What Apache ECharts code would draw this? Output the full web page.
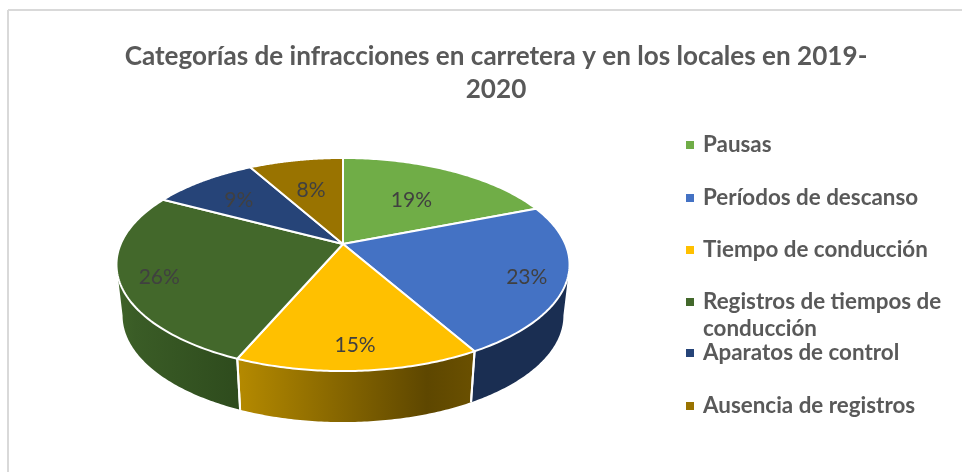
<!DOCTYPE html>
<html>
<head>
<meta charset="utf-8">
<script src="https://cdn.jsdelivr.net/npm/echarts@6/dist/echarts.min.js"></script>
<style>
	html, body { margin:0; padding:0; background:#fff; }
	#main { width:962px; height:472px; }
</style>
</head>
<body>
<div id="main"></div>
<script>
var chartTitle = 'Categorías de infracciones en carretera y en los locales en 2019-\n2020';
var categories = ['Pausas', 'Períodos de descanso', 'Tiempo de conducción', 'Registros de tiempos de\nconducción', 'Aparatos de control', 'Ausencia de registros'];
var shares = [19, 22.8, 14.6, 26.4, 9.1, 8.1];

// estilo
var topColors = ['#70AD47', '#4472C4', '#FFC000', '#43682B', '#264478', '#997300'];
var wallStops = [
	[[0, '#5b8a3a'], [1, '#5b8a3a']],
	[[0, '#1a2e52'], [1, '#1a2e52']],
	[[0, '#b58a00'], [0.8, '#5e4700'], [1, '#6a5000']],
	[[0, '#3f6329'], [0.15, '#3a5c26'], [1, '#2e4b1d']],
	[[0, '#1a2e52'], [1, '#1a2e52']],
	[[0, '#6b5100'], [1, '#6b5100']]
];
var labelRadius = [0.6, 0.83, 0.81, 0.83, 0.72, 0.64];
var legendY = [145, 198, 250, 302, 353, 406];
var secondLineY = 330;

// proyección del disco en perspectiva
var cx = 343, cy = 244;
var scaleX = 222.3, scaleY = 102.6, tilt = 0.1925;
var depth = 51, bottomScale = 0.973;
// ángulos donde la pared deja de verse
var wallFrom = Math.acos(-tilt), wallTo = Math.PI * 2 - wallFrom;

function project(angle, r, lower) {
	var x = Math.sin(angle) * r, y = Math.cos(angle) * r;
	var d = 1 + tilt * y;
	var u = scaleX * x / d, v = scaleY * y / d;
	if (lower) {
		return [cx + u * bottomScale, cy - v + depth];
	}
	return [cx + u, cy - v];
}

function rim(a, b, lower) {
	var pts = [], n = 80;
	for (var i = 0; i <= n; i++) {
		pts.push(project(a + (b - a) * i / n, 1, lower));
	}
	return pts;
}

function renderSlice(index) {
	return function(params, api) {
		var a = api.value(0) * Math.PI * 2;
		var b = api.value(1) * Math.PI * 2;
		var top = rim(a, b, false);
		var children = [{
			type:'polygon',
			z2:3,
			shape:{ points:[[cx, cy]].concat(top) },
			style:{ fill:topColors[index], stroke:'#fff', lineWidth:2, lineJoin:'round' }
		}];
		var wa = Math.max(a, wallFrom), wb = Math.min(b, wallTo);
		if (wb > wa) {
			var wall = rim(wa, wb, false).concat(rim(wa, wb, true).reverse());
			var minX = 9999, maxX = -9999;
			for (var i = 0; i < wall.length; i++) {
				minX = Math.min(minX, wall[i][0]);
				maxX = Math.max(maxX, wall[i][0]);
			}
			children.push({
				type:'polygon',
				z2:1,
				shape:{ points:wall },
				style:{
					fill:{ type:'linear', x:minX, y:0, x2:maxX, y2:0, global:true,
						colorStops:wallStops[index].map(function(s){ return { offset:s[0], color:s[1] }; }) }
				}
			});
		}
		// separación blanca entre paredes delanteras
		[a, b].forEach(function(t) {
			if (Math.cos(t) < -0.5) {
				var p = project(t, 1, false), q = project(t, 1, true);
				children.push({
					type:'line',
					z2:2,
					shape:{ x1:p[0], y1:p[1], x2:q[0], y2:q[1] },
					style:{ stroke:'#fff', lineWidth:2 }
				});
			}
		});
		var mid = project((a + b) / 2, labelRadius[index], false);
		children.push({
			type:'text',
			z2:4,
			style:{
				text:Math.round(shares[index]) + '%',
				x:mid[0], y:mid[1] + 3,
				align:'center', verticalAlign:'middle',
				fill:'#404040',
				font:'21px Lato'
			}
		});
		return { type:'group', children:children };
	};
}

var series = [], legends = [], graphics = [], start = 0;
for (var i = 0; i < categories.length; i++) {
	var lines = categories[i].split('\n');
	series.push({
		type:'custom',
		name:categories[i],
		coordinateSystem:'none',
		itemStyle:{ color:topColors[i] },
		renderItem:renderSlice(i),
		silent:true,
		animation:false,
		data:[[start / 100, (start + shares[i]) / 100]]
	});
	start += shares[i];
	legends.push({
		data:[categories[i]],
		left:686,
		top:legendY[i] - 11,
		padding:0,
		icon:'rect',
		itemWidth:8,
		itemHeight:8,
		selectedMode:false,
		formatter:function(name) { return name.split('\n')[0]; },
		textStyle:{ color:'#595959', fontFamily:'Lato', fontWeight:'bold', fontSize:22.4, padding:[0, 0, 0, 4] }
	});
	if (lines[1]) {
		graphics.push({
			type:'text',
			left:703,
			top:secondLineY - 12,
			style:{ text:lines[1], fill:'#595959', font:'bold 22.4px Lato' }
		});
	}
}

// marco del gráfico
graphics.push({ type:'line', shape:{ x1:8, y1:472, x2:8, y2:10 }, style:{ stroke:'#d9d9d9', lineWidth:2 } });
graphics.push({ type:'line', shape:{ x1:8, y1:10, x2:962, y2:10 }, style:{ stroke:'#d9d9d9', lineWidth:2 } });

var myChart = echarts.init(document.getElementById('main'));
myChart.setOption({
	backgroundColor:'#fff',
	animation:false,
	title:{
		text:chartTitle,
		left:496,
		top:40,
		padding:0,
		textAlign:'center',
		textStyle:{ color:'#595959', fontFamily:'Lato', fontWeight:'bold', fontSize:26.1, lineHeight:33 }
	},
	legend:legends,
	graphic:graphics,
	series:series
});
</script>
</body>
</html>
